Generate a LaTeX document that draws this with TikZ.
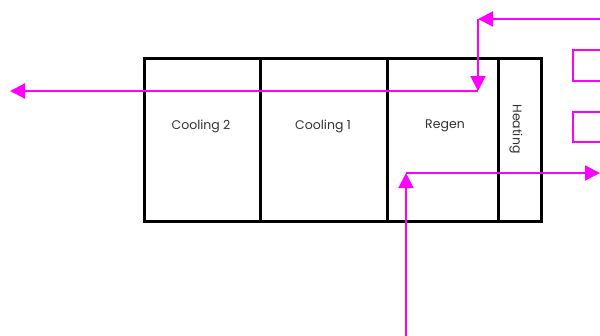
\documentclass[tikz,border=0pt]{standalone}
\usepackage{fontspec}
\setmainfont{Poppins}
\usetikzlibrary{arrows.meta}
\definecolor{mag}{RGB}{255,0,255}
\definecolor{txt}{RGB}{50,50,50}
\tikzset{
  cell/.style={draw=black,line width=3pt,minimum height=163pt,inner sep=0pt},
  lbl/.style={font=\fontsize{12.5}{14}\selectfont,text=txt,inner sep=1pt},
  flow/.style={draw=mag,line width=2pt,-{Triangle[length=15pt,width=15pt]}},
  flowline/.style={draw=mag,line width=2pt},
}
\begin{document}
\begin{tikzpicture}[x=1pt,y=-1pt]
\useasboundingbox (0,0) rectangle (600,335);
\clip (0,0) rectangle (600,335);
% compartments
\node[cell,minimum width=116pt] (c2) at (202,139.5) {};
\node[cell,minimum width=127pt] (c1) at (323.5,139.5) {};
\node[cell,minimum width=111pt] (rg) at (442.5,139.5) {};
\node[cell,minimum width=43pt] (ht) at (519.5,139.5) {};
\node[lbl] (c2t) at (201,126) {Cooling 2};
\node[lbl] (c1t) at (323,126) {Cooling 1};
\node[lbl] (rgt) at (445,126) {Regen};
\node[lbl,rotate=-90] (htt) at (516,129) {Heating};
% magenta boxes on the right
\draw[flowline] (573,50) rectangle (612,81);
\draw[flowline] (573,112) rectangle (612,142);
% top flow
\coordinate (a0) at (602,19);
\coordinate (a1) at (478,19);
\coordinate (a2) at (478,91);
\coordinate (a3) at (10,91);
\draw[flow] (a0) -- (a1);
\draw[flow] (a1) -- (a2);
\draw[flow] (a2) -- (a3);
% bottom flow
\coordinate (b0) at (406,336);
\coordinate (b1) at (406,173);
\coordinate (b2) at (600,173);
\draw[flow] (b0) -- (b1);
\draw[flow] (b1) -- (b2);
\end{tikzpicture}
\end{document}
